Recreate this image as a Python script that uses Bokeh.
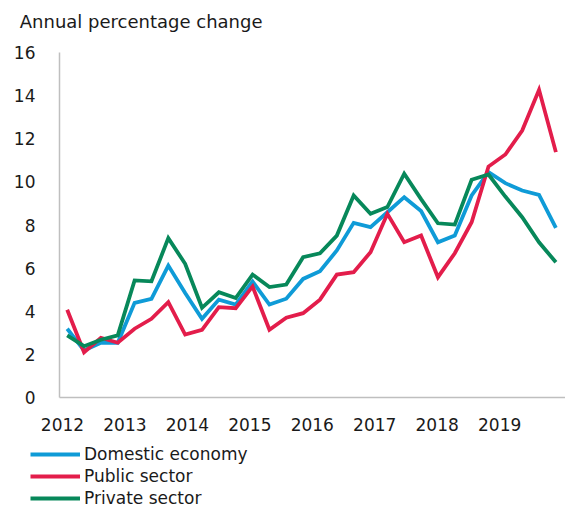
from bokeh.plotting import figure
from bokeh.models import FixedTicker, Range1d, Legend, LegendItem, Label
from bokeh.embed import file_html
from bokeh.resources import INLINE

# Quarterly observations, 2012 Q1 onwards
quarter_index = list(range(30))
domestic = [3.19, 2.18, 2.54, 2.54, 4.39, 4.58, 6.12, 4.85, 3.65, 4.54,
            4.31, 5.38, 4.31, 4.58, 5.50, 5.86, 6.82, 8.10, 7.90, 8.59,
            9.29, 8.65, 7.20, 7.51, 9.37, 10.45, 9.94, 9.60, 9.40, 7.87]
public = [4.07, 2.10, 2.77, 2.54, 3.19, 3.65, 4.42, 2.92, 3.14, 4.19,
          4.14, 5.15, 3.14, 3.70, 3.91, 4.54, 5.70, 5.81, 6.74, 8.52,
          7.20, 7.51, 5.58, 6.69, 8.13, 10.71, 11.27, 12.38, 14.27, 11.38]
private = [2.88, 2.38, 2.68, 2.88, 5.43, 5.39, 7.39, 6.20, 4.16, 4.88,
           4.61, 5.70, 5.12, 5.24, 6.51, 6.69, 7.51, 9.37, 8.52, 8.83,
           10.38, 9.20, 8.08, 8.02, 10.10, 10.34, 9.32, 8.36, 7.20, 6.27]

year_labels = ["2012", "2013", "2014", "2015", "2016", "2017", "2018", "2019"]
y_ticks = [0, 2, 4, 6, 8, 10, 12, 14, 16]
series_names = ["Domestic economy", "Public sector", "Private sector"]
series_colors = ["#0f9bd7", "#e31d4b", "#07885a"]

FONT = "DejaVu Sans"

# plotting area bounds (data units)
X_LO, X_HI = -0.457, 29.57
Y_LO, Y_HI = 0, 16

p = figure(width=565, height=508,
           min_border_left=0, min_border_top=0, min_border_right=0, min_border_bottom=0,
           x_range=Range1d(-3.958, 29.57), y_range=Range1d(-5.148, 18.412),
           output_backend="svg", toolbar_location=None)
p.outline_line_color = None
p.xgrid.grid_line_color = None
p.ygrid.grid_line_color = None

tick_pos = [-0.28 + i * 3.706 for i in range(len(year_labels))]
p.xaxis.ticker = FixedTicker(ticks=tick_pos)
p.xaxis.major_label_overrides = {t: lab for t, lab in zip(tick_pos, year_labels)}
p.xaxis.fixed_location = Y_LO
p.xaxis.bounds = (X_LO, X_HI)
p.yaxis.ticker = FixedTicker(ticks=y_ticks)
p.yaxis.fixed_location = X_LO
p.yaxis.bounds = (Y_LO, Y_HI)

for ax in (p.xaxis, p.yaxis):
    ax.axis_line_color = "#bfbfbf"
    ax.axis_line_width = 1.5
    ax.major_tick_line_color = None
    ax.minor_tick_line_color = None
    ax.major_label_text_font = FONT
    ax.major_label_text_font_size = "17px"
    ax.major_label_text_color = "#1a1a1a"
p.xaxis.major_label_standoff = 15
p.yaxis.major_label_standoff = 18

renderers = []
for ys, c in zip([domestic, public, private], series_colors):
    r = p.line(quarter_index, ys, line_color=c, line_width=3.8, line_join="miter")
    renderers.append(r)

legend = Legend(items=[LegendItem(label=n, renderers=[r]) for n, r in zip(series_names, renderers)],
                location=(30, 0))
legend.label_text_font = FONT
legend.label_text_font_size = "17px"
legend.label_text_color = "#1a1a1a"
legend.glyph_width = 50
legend.glyph_height = 20
legend.label_height = 20
legend.label_standoff = 4
legend.spacing = 2
legend.padding = 0
legend.margin = 0
legend.border_line_color = None
legend.background_fill_alpha = 0
p.add_layout(legend, "center")

title = Label(x=19.3, y=487, x_units="screen", y_units="screen",
              text="Annual percentage change", text_font=FONT,
              text_font_size="18px", text_color="#1a1a1a",
              text_baseline="middle", text_align="left")
p.add_layout(title)

open("out.html", "w").write(file_html(p, INLINE))
